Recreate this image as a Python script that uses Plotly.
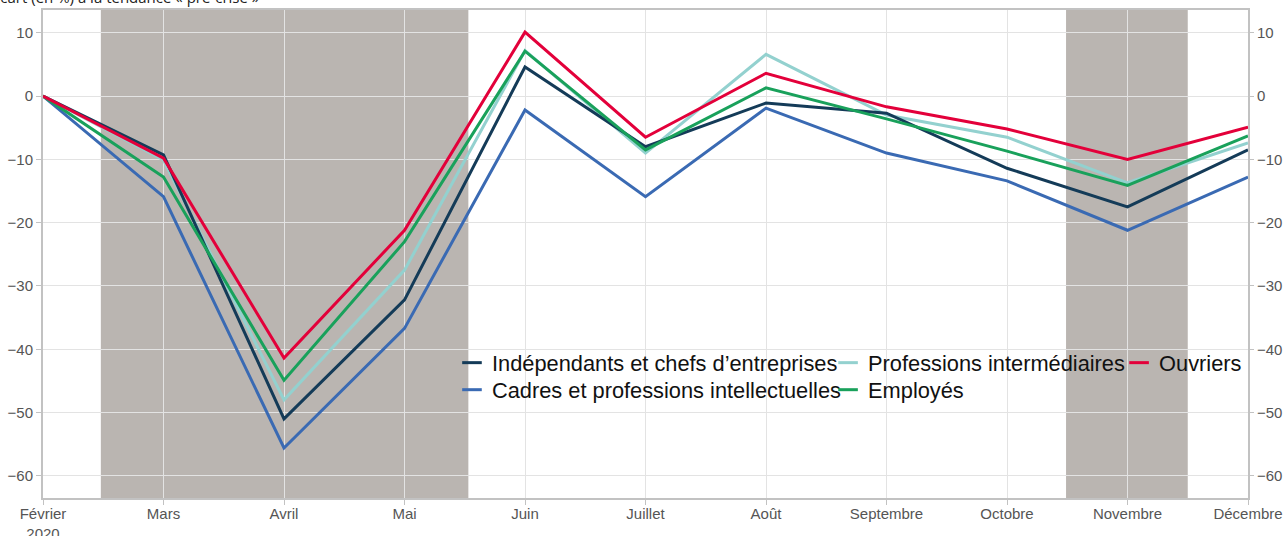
import plotly.graph_objects as go

months = ["Février<br>2020", "Mars", "Avril", "Mai", "Juin", "Juillet", "Août",
          "Septembre", "Octobre", "Novembre", "Décembre"]

independants = [0, -9.3, -51.0, -32.2, 4.6, -8.0, -1.1, -2.7, -11.4, -17.5, -8.5]
prof_inter = [0, -10.1, -48.0, -27.5, 7.2, -9.0, 6.6, -3.0, -6.5, -13.7, -7.4]
ouvriers = [0, -9.8, -41.4, -21.2, 10.1, -6.5, 3.6, -1.7, -5.2, -10.0, -4.9]
cadres = [0, -15.9, -55.6, -36.7, -2.2, -15.9, -1.9, -9.0, -13.4, -21.2, -12.8]
employes = [0, -12.8, -44.9, -23.0, 7.1, -8.5, 1.3, -3.6, -8.7, -14.1, -6.3]

series = [
    ("Indépendants et chefs d’entreprises", independants, "#143b58", "legend"),
    ("Cadres et professions intellectuelles", cadres, "#3a6ab3", "legend2"),
    ("Professions intermédiaires", prof_inter, "#93d1cf", "legend3"),
    ("Employés", employes, "#19a15b", "legend4"),
    ("Ouvriers", ouvriers, "#e3003a", "legend5"),
]
draw_order = [2, 1, 0, 3, 4]

confinements = [(0.48, 3.53), (8.49, 9.5)]

x = list(range(len(months)))

fig = go.Figure()
for i in draw_order:
    name, vals, col, _ = series[i]
    fig.add_trace(go.Scatter(x=x, y=vals, mode="lines", name=name,
                             line=dict(color=col, width=3), showlegend=False))
for name, vals, col, lg in series:
    fig.add_trace(go.Scatter(x=[None], y=[None], mode="markers", name=name,
                             marker=dict(symbol="line-ew-open", size=14, color=col,
                                         line=dict(color=col, width=3)),
                             legend=lg, showlegend=True))
fig.add_trace(go.Scatter(x=[None], y=[None], yaxis="y2", showlegend=False))

for a, b in confinements:
    fig.add_shape(type="rect", xref="x", yref="paper", x0=a, x1=b, y0=0, y1=1,
                  fillcolor="#bab5b1", line=dict(width=0), layer="below")

yrange = [-63.5, 13.6]
yticks = [10, 0, -10, -20, -30, -40, -50, -60]
axis_font = dict(family="Liberation Sans, Arial, sans-serif", size=15, color="#555")
leg_font = dict(family="Liberation Sans, Arial, sans-serif", size=21.8, color="#111")

leg_common = dict(yanchor="top", xanchor="left", orientation="v", font=leg_font,
                  bgcolor="rgba(0,0,0,0)", tracegroupgap=0, borderwidth=0)

row1, row2 = 0.3197, 0.2643
col1, col2, col3 = 0.3394, 0.6515, 0.8930

fig.update_layout(
    width=1287, height=536,
    margin=dict(l=43, r=39, t=10, b=38, autoexpand=False),
    paper_bgcolor="white", plot_bgcolor="white",
    xaxis=dict(range=[0, 10], tickmode="array", tickvals=x, ticktext=months,
               showgrid=True, gridcolor="#e3e3e3", gridwidth=1,
               showline=True, linecolor="#c2c2c2", linewidth=2, mirror=True,
               ticks="outside", ticklen=5, tickcolor="#c2c2c2",
               ticklabelstandoff=-4,
               tickfont=axis_font, zeroline=False, automargin=False),
    yaxis=dict(range=yrange, tickvals=yticks,
               showgrid=True, gridcolor="#e3e3e3", gridwidth=1,
               showline=True, linecolor="#c2c2c2", linewidth=2, mirror=True,
               ticks="outside", ticklen=5, tickcolor="#c2c2c2",
               tickfont=axis_font, zeroline=False, automargin=False),
    yaxis2=dict(range=yrange, tickvals=yticks,
                overlaying="y", side="right", showgrid=False,
                showline=False, ticks="outside", ticklen=5, tickcolor="#c2c2c2",
                tickfont=axis_font, zeroline=False, automargin=False),
    legend=dict(x=col1, y=row1, **leg_common),
    legend2=dict(x=col1, y=row2, **leg_common),
    legend3=dict(x=col2, y=row1, **leg_common),
    legend4=dict(x=col2, y=row2, **leg_common),
    legend5=dict(x=col3, y=row1, **leg_common),
    annotations=[dict(text="Écart (en %) à la tendance « pré-crise »",
                      xref="paper", yref="paper", x=-0.044, y=1.002,
                      xanchor="left", yanchor="bottom", showarrow=False,
                      font=dict(family="Open Sans, sans-serif", size=15, color="#222"))],
)

fig.write_html("out.html", config={"displayModeBar": False},
               post_script="document.body.style.margin='0px';document.body.style.overflow='hidden';")
